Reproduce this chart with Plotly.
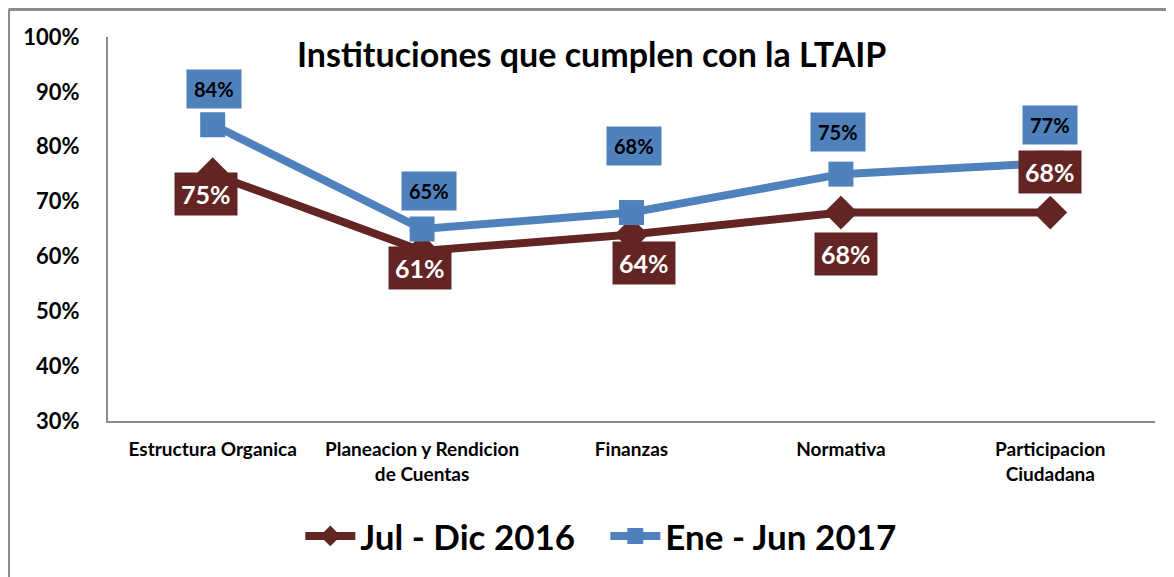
import plotly.graph_objects as go

categories = ["Estructura Organica", "Planeacion y Rendicion<br>de Cuentas", "Finanzas",
              "Normativa", "Participacion<br>Ciudadana"]
series_2016_name = "Jul - Dic 2016"
series_2016 = [75, 61, 64, 68, 68]
series_2017_name = "Ene - Jun 2017"
series_2017 = [84, 65, 68, 75, 77]
y_ticks = [30, 40, 50, 60, 70, 80, 90, 100]
title_text = "Instituciones que cumplen con la LTAIP"

RED = "#632523"
BLUE = "#4F81BD"
FONT = "Lato"

# label offsets (pixels) relative to each point
red_shift = [(-7, -20), (-2, -17), (12, -29), (5, -41), (0, 41)]
blue_shift = [(1, 36), (7, 38), (2, 67), (-3, 42), (0, 38)]

fig = go.Figure()
fig.add_trace(go.Scatter(
    x=categories, y=series_2016, name=series_2016_name, mode="lines+markers",
    line=dict(color=RED, width=8),
    marker=dict(symbol="diamond", size=26, color=RED),
))
fig.add_trace(go.Scatter(
    x=categories, y=series_2017, name=series_2017_name, mode="lines+markers",
    line=dict(color=BLUE, width=8),
    marker=dict(symbol="square", size=25, color=BLUE),
))

for i, (c, v) in enumerate(zip(categories, series_2016)):
    dx, dy = red_shift[i]
    fig.add_annotation(x=c, y=v, xref="x", yref="y", text=f"{v}%",
                       showarrow=False, xshift=dx, yshift=dy,
                       bgcolor=RED, borderpad=6,
                       font=dict(family=FONT, size=25, color="white", weight="bold"))
for i, (c, v) in enumerate(zip(categories, series_2017)):
    dx, dy = blue_shift[i]
    fig.add_annotation(x=c, y=v, xref="x", yref="y", text=f"{v}%",
                       showarrow=False, xshift=dx, yshift=dy,
                       bgcolor=BLUE, borderpad=7,
                       font=dict(family=FONT, size=20, color="black", weight="bold"))

fig.add_annotation(x=0.462, y=0.956, xref="paper", yref="paper",
                   text=title_text, showarrow=False,
                   xanchor="center", yanchor="middle",
                   font=dict(family=FONT, size=34, color="black", weight="bold"))

# outer chart border (left and top edges)
fig.add_shape(type="line", xref="paper", yref="paper", x0=-0.095, x1=1.1, y0=1.0716, y1=1.0716,
              line=dict(color="#8c8c8c", width=3))
fig.add_shape(type="line", xref="paper", yref="paper", x0=-0.095, x1=-0.095, y0=1.0716, y1=-0.5,
              line=dict(color="#8c8c8c", width=3))

fig.update_layout(
    width=1174, height=577,
    margin=dict(l=100, r=27, t=29, b=164),
    paper_bgcolor="white", plot_bgcolor="white",
    font=dict(family=FONT, color="black"),
    showlegend=True,
    legend=dict(orientation="h", x=0.475, xanchor="center", y=-0.30, yanchor="middle",
                font=dict(family=FONT, size=35, color="black", weight="bold"), itemwidth=50,
                entrywidth=240, entrywidthmode="pixels",
                traceorder="normal"),
)
fig.update_xaxes(type="category", range=[-0.5, 4.5], showgrid=False, automargin=False,
                 showline=True, linecolor="#8c8c8c", linewidth=2,
                 tickfont=dict(family=FONT, size=19, color="black", weight="bold"),
                 ticks="", ticklabelstandoff=10)
fig.update_yaxes(range=[30, 100], tickvals=y_ticks,
                 ticktext=[f"{t}%" for t in y_ticks], automargin=False,
                 showgrid=False, zeroline=False,
                 showline=True, linecolor="#8c8c8c", linewidth=2,
                 tickfont=dict(family=FONT, size=22, color="black", weight="bold"),
                 ticks="", ticklabelstandoff=22)

fig.write_html("out.html")
